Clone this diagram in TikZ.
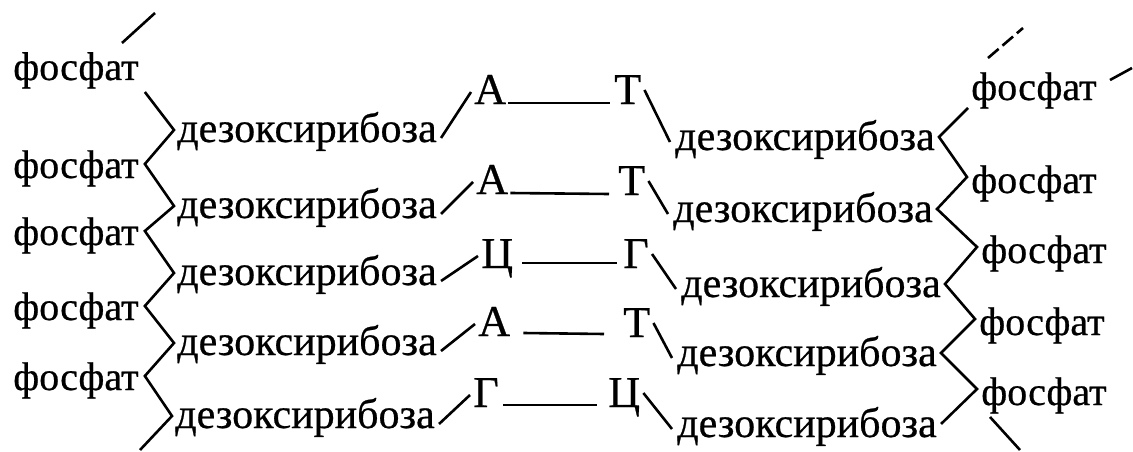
\documentclass[tikz,border=0pt]{standalone}
\usepackage{fontspec}
\setmainfont{Liberation Serif}
\newfontfamily\scanfont[FakeBold=0.6]{Liberation Serif}
\begin{document}
\begin{tikzpicture}[x=1pt,y=-1pt,line width=2.6pt,
  lbl/.style={anchor=base west,inner sep=0pt,font=\scanfont\fontsize{42}{48}\selectfont},
  phos/.style={lbl,font=\scanfont\fontsize{40}{48}\selectfont},
  basebox/.style={lbl,text depth=0pt,font=\scanfont\fontsize{44}{50}\selectfont}]
\useasboundingbox (0,0) rectangle (1133,452);
% left phosphates
\node[phos] (LF1) at (12,80) {фосфат};
\node[phos] (LF2) at (12,178) {фосфат};
\node[phos] (LF3) at (12,245) {фосфат};
\node[phos] (LF4) at (12,320) {фосфат};
\node[phos] (LF5) at (12,390) {фосфат};
% left sugars
\node[lbl] (LD1) at (176,142) {дезоксирибоза};
\node[lbl] (LD2) at (176,218) {дезоксирибоза};
\node[lbl] (LD3) at (176,285) {дезоксирибоза};
\node[lbl] (LD4) at (176,355) {дезоксирибоза};
\node[lbl] (LD5) at (174,428) {дезоксирибоза};
% bases
\node[basebox] (B1L) at (473,104) {А};
\node[basebox] (B1R) at (613,104) {Т};
\node[basebox] (B2L) at (475,194) {А};
\node[basebox] (B2R) at (617,195) {Т};
\node[basebox] (B3L) at (480,268) {Ц};
\node[basebox] (B3R) at (622,268) {Г};
\node[basebox] (B4L) at (477,336) {А};
\node[basebox] (B4R) at (622,337) {Т};
\node[basebox] (B5L) at (472,407) {Г};
\node[basebox] (B5R) at (607,407) {Ц};
% right sugars
\node[lbl] (RD1) at (674,150) {дезоксирибоза};
\node[lbl] (RD2) at (672,222) {дезоксирибоза};
\node[lbl] (RD3) at (680,297) {дезоксирибоза};
\node[lbl] (RD4) at (676,366) {дезоксирибоза};
\node[lbl] (RD5) at (676,437) {дезоксирибоза};
% right phosphates
\node[phos] (RF1) at (970,100) {фосфат};
\node[phos] (RF2) at (970,193) {фосфат};
\node[phos] (RF3) at (980,263) {фосфат};
\node[phos] (RF4) at (978,335) {фосфат};
\node[phos] (RF5) at (980,405) {фосфат};
% left backbone vertices
\coordinate (lf1v) at ([xshift=5pt,yshift=-12pt]LF1.base east);
\foreach \i in {2,...,5}{\coordinate (lf\i v) at ([xshift=5pt,yshift=14pt]LF\i.base east);}
\foreach \i in {1,...,5}{\coordinate (ld\i v) at ([xshift=-2pt,yshift=12pt]LD\i.base west);}
\coordinate (lend) at (140,450);
\coordinate (ltopa) at (122,43);
\coordinate (ltopb) at (155,13);
% right backbone vertices
\coordinate (rf1v) at ([xshift=-2pt,yshift=-8pt]RF1.base west);
\foreach \i in {2,...,5}{\coordinate (rf\i v) at ([xshift=-3pt,yshift=16pt]RF\i.base west);}
\foreach \i in {1,...,5}{\coordinate (rd\i v) at ([xshift=3pt,yshift=13pt]RD\i.base east);}
\coordinate (rbota) at ([xshift=10pt,yshift=-12pt]RF5.base west);
\coordinate (rbotb) at (1020,450);
\coordinate (rtopa) at (988,58);
\coordinate (rtopb) at (1023,28);
\coordinate (rsa) at (1110,80);
\coordinate (rsb) at (1132,68);
% backbones
\draw (ltopa) -- (ltopb);
\draw (lf1v) -- (ld1v) -- (lf2v) -- (ld2v) -- (lf3v) -- (ld3v) -- (lf4v) -- (ld4v) -- (lf5v) -- (ld5v) -- (lend);
\draw[dash pattern=on 14pt off 5pt] (rtopa) -- (rtopb);
\draw (rsa) -- (rsb);
\draw (rf1v) -- (rd1v) -- (rf2v) -- (rd2v) -- (rf3v) -- (rd3v) -- (rf4v) -- (rd4v) -- (rf5v) -- (rd5v);
\draw (rbota) -- (rbotb);
% sugar to base links
\foreach \i in {1,...,5}{
  \draw ([xshift=3pt,yshift=4pt]LD\i.base east) -- ([xshift=-2pt,yshift=12pt]B\i L.base west);
  \draw ([xshift=2pt,yshift=14pt]B\i R.base east) -- ([xshift=-4pt,yshift=8pt]RD\i.base west);
}
% hydrogen bonds
\draw ([xshift=1pt,yshift=1pt]B1L.base east) -- ([xshift=-3pt,yshift=1pt]B1R.base west);
\draw ([xshift=1pt,yshift=1pt]B2L.base east) -- ([xshift=-8pt,yshift=1pt]B2R.base west);
\draw ([xshift=8pt,yshift=5pt]B3L.base east) -- ([xshift=-5pt,yshift=5pt]B3R.base west);
\draw ([xshift=12pt,yshift=3pt]B4L.base east) -- ([xshift=-18pt,yshift=3pt]B4R.base west);
\draw ([xshift=3pt,yshift=2pt]B5L.base east) -- ([xshift=-10pt,yshift=2pt]B5R.base west);
\end{tikzpicture}
\end{document}
